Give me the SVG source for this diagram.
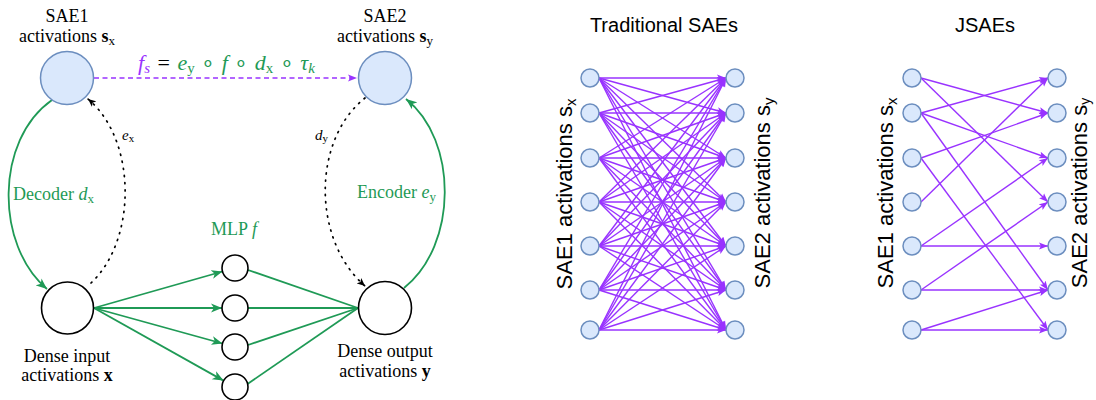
<svg xmlns="http://www.w3.org/2000/svg" width="1096" height="400" viewBox="0 0 1096 400">
<style>
.serif{font-family:"Liberation Serif","Times New Roman",serif;}
.sans{font-family:"Liberation Sans",Arial,sans-serif;}
.lbl{font-size:18px;fill:#000;text-anchor:middle;}
.grn{fill:#1f9a56;}
.pur{fill:#9933ff;}
.sae{fill:#dae8fc;stroke:#6c8ebf;stroke-width:1.5;}
.dense{fill:#fff;stroke:#000;stroke-width:1.6;}
.g{stroke:#1f9a56;stroke-width:1.8;fill:none;}
.dot{stroke:#000;stroke-width:1.7;fill:none;stroke-dasharray:1.2 6;stroke-linecap:round;}
.p{stroke:#9933ff;stroke-width:1.4;fill:none;marker-end:url(#ap);}
.it{font-style:italic;}
.b{font-weight:bold;}
</style>
<defs>
<marker id="ag" markerUnits="userSpaceOnUse" markerWidth="12" markerHeight="10" refX="11" refY="5" orient="auto">
<path d="M0,0.5 L11,5 L0,9.5 L3,5 z" fill="#1f9a56"/>
</marker>
<marker id="ak" markerUnits="userSpaceOnUse" markerWidth="9" markerHeight="8" refX="8" refY="4" orient="auto">
<path d="M0,0.5 L8,4 L0,7.5 L2,4 z" fill="#000"/>
</marker>
<marker id="ap" markerUnits="userSpaceOnUse" markerWidth="10" markerHeight="8" refX="9" refY="4" orient="auto">
<path d="M0,0.5 L9,4 L0,7.5 L2,4 z" fill="#9933ff"/>
</marker>
</defs>

<!-- LEFT PANEL -->
<g id="connectors-left">
<line x1="94" y1="78" x2="357" y2="78" stroke="#9933ff" stroke-width="1.6" stroke-dasharray="5 3.5" marker-end="url(#ap)"/>
<path class="g" d="M52,100 C-5,140 -5,245 47,289" marker-end="url(#ag)"/>
<path class="g" d="M404,288 C458,245 458,140 406,99" marker-end="url(#ag)"/>
<path class="dot" d="M91,283 C137,240 137,140 88,99" marker-end="url(#ak)"/>
<path class="dot" d="M365,98 C312,140 312,240 365,286" marker-end="url(#ak)"/>
<line class="g" x1="94" y1="308" x2="222.5" y2="271.5" marker-end="url(#ag)"/>
<line class="g" x1="94" y1="308" x2="222" y2="308" marker-end="url(#ag)"/>
<line class="g" x1="94" y1="308" x2="222.5" y2="343.5" marker-end="url(#ag)"/>
<line class="g" x1="94" y1="308" x2="223.5" y2="380.6" marker-end="url(#ag)"/>
<line class="g" x1="248" y1="270" x2="358" y2="308"/>
<line class="g" x1="248" y1="308" x2="358" y2="308"/>
<line class="g" x1="248" y1="345" x2="358" y2="308"/>
<line class="g" x1="247.5" y1="384" x2="358" y2="308"/>
</g>

<g id="sae1">
<circle class="sae" cx="67" cy="78" r="26.5"/>
<text class="serif lbl" x="67" y="22">SAE1</text>
<text class="serif lbl" x="67" y="42">activations <tspan class="b">s</tspan><tspan font-size="13" dy="3">x</tspan></text>
</g>
<g id="sae2">
<circle class="sae" cx="385" cy="78" r="26.5"/>
<text class="serif lbl" x="385" y="22">SAE2</text>
<text class="serif lbl" x="385" y="42">activations <tspan class="b">s</tspan><tspan font-size="13" dy="3">y</tspan></text>
</g>
<g id="dense-input">
<circle class="dense" cx="67.5" cy="308" r="26"/>
<text class="serif lbl" x="67" y="362">Dense input</text>
<text class="serif lbl" x="67" y="381">activations <tspan class="b">x</tspan></text>
</g>
<g id="dense-output">
<circle class="dense" cx="385" cy="308" r="26.5"/>
<text class="serif lbl" x="385" y="357">Dense output</text>
<text class="serif lbl" x="385" y="377">activations <tspan class="b">y</tspan></text>
</g>
<g id="mlp">
<circle class="dense" cx="235" cy="268" r="13"/>
<circle class="dense" cx="235" cy="308" r="13"/>
<circle class="dense" cx="235" cy="347" r="13"/>
<circle class="dense" cx="235" cy="387" r="13"/>
<text class="serif lbl grn" x="234" y="235">MLP <tspan class="it">f</tspan></text>
</g>
<g id="labels-left">
<text class="serif" x="138" y="70" font-size="22"><tspan class="pur it">f</tspan><tspan class="pur it" font-size="15" dy="3">s</tspan><tspan dy="-3" dx="2"> = </tspan><tspan class="grn it" dx="2">e</tspan><tspan class="grn" font-size="15" dy="3">y</tspan><tspan class="grn" dy="-3" dx="1"> ∘ </tspan><tspan class="grn it" dx="1">f</tspan><tspan class="grn" dx="1"> ∘ </tspan><tspan class="grn it" dx="1">d</tspan><tspan class="grn" font-size="15" dy="3">x</tspan><tspan class="grn" dy="-3" dx="1"> ∘ </tspan><tspan class="grn it" dx="1">τ</tspan><tspan class="grn it" font-size="15" dy="3">k</tspan></text>
<text class="serif grn" x="13" y="200" font-size="18">Decoder <tspan class="it">d</tspan><tspan font-size="13" dy="3">x</tspan></text>
<text class="serif grn" x="357" y="198" font-size="18">Encoder <tspan class="it">e</tspan><tspan font-size="13" dy="3">y</tspan></text>
<text class="serif" x="122" y="140" font-size="15"><tspan class="it">e</tspan><tspan font-size="11" dy="2">x</tspan></text>
<text class="serif" x="315" y="140" font-size="15"><tspan class="it">d</tspan><tspan font-size="11" dy="2">y</tspan></text>
</g>

<!-- TRADITIONAL SAEs -->
<text class="sans" x="664" y="32" font-size="20" text-anchor="middle">Traditional SAEs</text>
<text class="sans" transform="translate(572,194) rotate(-90)" font-size="22" text-anchor="middle">SAE1 activations s<tspan font-size="15" dy="4">x</tspan></text>
<text class="sans" transform="translate(770,193) rotate(-90)" font-size="22" text-anchor="middle">SAE2 activations s<tspan font-size="15" dy="4">y</tspan></text>
<g id="connectors-trad">
<line class="p" x1="599" y1="78" x2="726" y2="78"/><line class="p" x1="599" y1="78" x2="726" y2="113"/><line class="p" x1="599" y1="78" x2="726" y2="158"/><line class="p" x1="599" y1="78" x2="726" y2="202"/><line class="p" x1="599" y1="78" x2="726" y2="246"/><line class="p" x1="599" y1="78" x2="726" y2="290"/><line class="p" x1="599" y1="78" x2="726" y2="330"/>
<line class="p" x1="599" y1="113" x2="726" y2="78"/><line class="p" x1="599" y1="113" x2="726" y2="113"/><line class="p" x1="599" y1="113" x2="726" y2="158"/><line class="p" x1="599" y1="113" x2="726" y2="202"/><line class="p" x1="599" y1="113" x2="726" y2="246"/><line class="p" x1="599" y1="113" x2="726" y2="290"/><line class="p" x1="599" y1="113" x2="726" y2="330"/>
<line class="p" x1="599" y1="158" x2="726" y2="78"/><line class="p" x1="599" y1="158" x2="726" y2="113"/><line class="p" x1="599" y1="158" x2="726" y2="158"/><line class="p" x1="599" y1="158" x2="726" y2="202"/><line class="p" x1="599" y1="158" x2="726" y2="246"/><line class="p" x1="599" y1="158" x2="726" y2="290"/><line class="p" x1="599" y1="158" x2="726" y2="330"/>
<line class="p" x1="599" y1="202" x2="726" y2="78"/><line class="p" x1="599" y1="202" x2="726" y2="113"/><line class="p" x1="599" y1="202" x2="726" y2="158"/><line class="p" x1="599" y1="202" x2="726" y2="202"/><line class="p" x1="599" y1="202" x2="726" y2="246"/><line class="p" x1="599" y1="202" x2="726" y2="290"/><line class="p" x1="599" y1="202" x2="726" y2="330"/>
<line class="p" x1="599" y1="246" x2="726" y2="78"/><line class="p" x1="599" y1="246" x2="726" y2="113"/><line class="p" x1="599" y1="246" x2="726" y2="158"/><line class="p" x1="599" y1="246" x2="726" y2="202"/><line class="p" x1="599" y1="246" x2="726" y2="246"/><line class="p" x1="599" y1="246" x2="726" y2="290"/><line class="p" x1="599" y1="246" x2="726" y2="330"/>
<line class="p" x1="599" y1="290" x2="726" y2="78"/><line class="p" x1="599" y1="290" x2="726" y2="113"/><line class="p" x1="599" y1="290" x2="726" y2="158"/><line class="p" x1="599" y1="290" x2="726" y2="202"/><line class="p" x1="599" y1="290" x2="726" y2="246"/><line class="p" x1="599" y1="290" x2="726" y2="290"/><line class="p" x1="599" y1="290" x2="726" y2="330"/>
<line class="p" x1="599" y1="330" x2="726" y2="78"/><line class="p" x1="599" y1="330" x2="726" y2="113"/><line class="p" x1="599" y1="330" x2="726" y2="158"/><line class="p" x1="599" y1="330" x2="726" y2="202"/><line class="p" x1="599" y1="330" x2="726" y2="246"/><line class="p" x1="599" y1="330" x2="726" y2="290"/><line class="p" x1="599" y1="330" x2="726" y2="330"/>
</g>
<g id="trad-sae1-nodes">
<circle class="sae" cx="590" cy="78" r="9"/><circle class="sae" cx="590" cy="113" r="9"/><circle class="sae" cx="590" cy="158" r="9"/><circle class="sae" cx="590" cy="202" r="9"/><circle class="sae" cx="590" cy="246" r="9"/><circle class="sae" cx="590" cy="290" r="9"/><circle class="sae" cx="590" cy="330" r="9"/>
</g>
<g id="trad-sae2-nodes">
<circle class="sae" cx="735" cy="78" r="9"/><circle class="sae" cx="735" cy="113" r="9"/><circle class="sae" cx="735" cy="158" r="9"/><circle class="sae" cx="735" cy="202" r="9"/><circle class="sae" cx="735" cy="246" r="9"/><circle class="sae" cx="735" cy="290" r="9"/><circle class="sae" cx="735" cy="330" r="9"/>
</g>

<!-- JSAEs -->
<text class="sans" x="985" y="32" font-size="20" text-anchor="middle">JSAEs</text>
<text class="sans" transform="translate(893,193) rotate(-90)" font-size="22" text-anchor="middle">SAE1 activations s<tspan font-size="15" dy="4">x</tspan></text>
<text class="sans" transform="translate(1087,193) rotate(-90)" font-size="22" text-anchor="middle">SAE2 activations s<tspan font-size="14" dy="3">y</tspan></text>
<g id="connectors-jsae">
<line class="p" x1="921" y1="78" x2="1048" y2="113"/>
<line class="p" x1="921" y1="78" x2="1048" y2="202"/>
<line class="p" x1="921" y1="113" x2="1048" y2="78"/>
<line class="p" x1="921" y1="113" x2="1048" y2="158"/>
<line class="p" x1="921" y1="113" x2="1048" y2="290"/>
<line class="p" x1="921" y1="158" x2="1048" y2="113"/>
<line class="p" x1="921" y1="158" x2="1048" y2="330"/>
<line class="p" x1="921" y1="202" x2="1048" y2="78"/>
<line class="p" x1="921" y1="246" x2="1048" y2="158"/>
<line class="p" x1="921" y1="246" x2="1048" y2="246"/>
<line class="p" x1="921" y1="290" x2="1048" y2="202"/>
<line class="p" x1="921" y1="290" x2="1048" y2="290"/>
<line class="p" x1="921" y1="330" x2="1048" y2="290"/>
<line class="p" x1="921" y1="330" x2="1048" y2="330"/>
</g>
<g id="jsae-sae1-nodes">
<circle class="sae" cx="912" cy="78" r="9"/><circle class="sae" cx="912" cy="113" r="9"/><circle class="sae" cx="912" cy="158" r="9"/><circle class="sae" cx="912" cy="202" r="9"/><circle class="sae" cx="912" cy="246" r="9"/><circle class="sae" cx="912" cy="290" r="9"/><circle class="sae" cx="912" cy="330" r="9"/>
</g>
<g id="jsae-sae2-nodes">
<circle class="sae" cx="1057" cy="78" r="9"/><circle class="sae" cx="1057" cy="113" r="9"/><circle class="sae" cx="1057" cy="158" r="9"/><circle class="sae" cx="1057" cy="202" r="9"/><circle class="sae" cx="1057" cy="246" r="9"/><circle class="sae" cx="1057" cy="290" r="9"/><circle class="sae" cx="1057" cy="330" r="9"/>
</g>
</svg>
